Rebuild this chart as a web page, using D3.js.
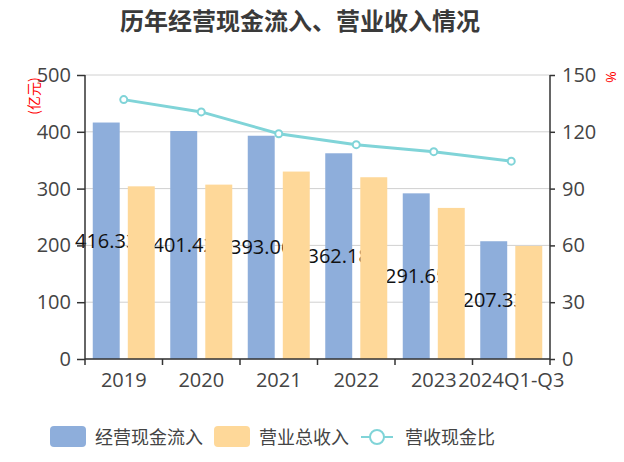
<!DOCTYPE html>
<html><head><meta charset="utf-8">
<script src="https://cdn.jsdelivr.net/npm/d3@7"></script>
<style>body{margin:0;background:#fff}svg{display:block;font-family:"Open Sans","Noto Sans CJK SC",sans-serif}</style>
</head><body><svg id="c" width="624" height="462"></svg>
<script>
const categories = ["2019","2020","2021","2022","2023","2024Q1-Q3"];
const cashInflow = [416.33,401.42,393.06,362.18,291.65,207.33];
const revenue = [304,307,330,320,266,199];
const ratio = [137.0,130.5,119.0,113.2,109.5,104.5];
const leftTicks = [0,100,200,300,400,500];
const rightTicks = [0,30,60,90,120,150];
const seriesNames = ["经营现金流入","营业总收入","营收现金比"];

const FONT = '"Open Sans","Noto Sans CJK SC",sans-serif';
const svg = d3.select("#c");
const L=85, R=550, T=75, B=359;
const x = d3.scaleBand().domain(categories).range([L,R]).paddingInner(0).paddingOuter(0);
const yL = d3.scaleLinear().domain([0,500]).range([B,T]);
const yR = d3.scaleLinear().domain([0,150]).range([B,T]);
const bw = x.bandwidth();
const barW = bw*0.8/2.3, gap = barW*0.3, off = bw*0.1;

// grid
svg.append("g").selectAll("line").data(leftTicks).join("line")
  .attr("x1",L).attr("x2",R).attr("y1",d=>yL(d)).attr("y2",d=>yL(d))
  .attr("stroke","#d0d0d0").attr("stroke-width",1);

// title
svg.append("text").attr("x",300).attr("y",30).attr("text-anchor","middle")
  .attr("font-family","Noto Sans CJK SC")
  .attr("font-size",24).attr("font-weight","bold").attr("fill","#3a3a3a").text("历年经营现金流入、营业收入情况");

// blue bars
svg.append("g").selectAll("rect").data(cashInflow).join("rect")
  .attr("x",(d,i)=>x(categories[i])+off).attr("width",barW)
  .attr("y",d=>yL(d)).attr("height",d=>B-yL(d)).attr("fill","#8eaedb");
// labels
svg.append("g").selectAll("text").data(cashInflow).join("text")
  .attr("x",(d,i)=>x(categories[i])+off+barW/2).attr("y",d=>(yL(d)+B)/2+7)
  .attr("font-family",FONT)
  .attr("text-anchor","middle").attr("font-size",20).attr("fill","#111").text(d=>d.toFixed(2));
// orange bars
svg.append("g").selectAll("rect").data(revenue).join("rect")
  .attr("x",(d,i)=>x(categories[i])+off+barW+gap).attr("width",barW)
  .attr("y",d=>yL(d)).attr("height",d=>B-yL(d)).attr("fill","#fed899");

// axes
const axL = svg.append("g").attr("transform",`translate(${L},0)`)
  .call(d3.axisLeft(yL).tickValues(leftTicks).tickSize(8).tickPadding(6));
const axR = svg.append("g").attr("transform",`translate(${R},0)`)
  .call(d3.axisRight(yR).tickValues(rightTicks).tickSize(5).tickPadding(7));
const axB = svg.append("g").attr("transform",`translate(0,${B})`)
  .call(d3.axisBottom(x).tickSize(0).tickPadding(14));
axB.append("g").selectAll("line").data(d3.range(categories.length+1)).join("line")
  .attr("x1",i=>L+i*bw).attr("x2",i=>L+i*bw).attr("y1",0).attr("y2",6).attr("stroke","#333").attr("stroke-width",1.5);
[axL,axR,axB].forEach(a=>{
  a.attr("font-family",FONT).attr("font-size",20);
  a.selectAll("text").attr("fill","#444");
  a.selectAll(".tick line").attr("stroke","#333").attr("stroke-width",1.5);
  a.select(".domain").attr("stroke","#333").attr("stroke-width",1.5);
});
axL.select(".domain").attr("d",`M0,${T}V${B}`);
axR.select(".domain").attr("d",`M0,${T}V${B}`);
axB.select(".domain").attr("d",`M${L},0H${R}`);

// line
const line = d3.line().x((d,i)=>x(categories[i])+bw/2).y(d=>yR(d));
svg.append("path").datum(ratio).attr("d",line).attr("fill","none").attr("stroke","#80d4d8").attr("stroke-width",3);
svg.append("g").selectAll("circle").data(ratio).join("circle")
  .attr("cx",(d,i)=>x(categories[i])+bw/2).attr("cy",d=>yR(d)).attr("r",3.5)
  .attr("fill","#fff").attr("stroke","#80d4d8").attr("stroke-width",2);

// unit labels
svg.append("text").attr("transform","translate(39,96) rotate(-90)").attr("text-anchor","middle")
  .attr("font-family","Noto Sans CJK SC").attr("font-size",14).attr("fill","#f00").text("(亿元)");
svg.append("text").attr("transform","translate(606,77) rotate(90)").attr("text-anchor","middle")
  .attr("font-family",FONT).attr("font-size",14).attr("fill","#f00").text("%");

// legend
const lg = svg.append("g");
const lgItems = [{x:50,type:"rect",color:"#8eaedb"},{x:214,type:"rect",color:"#fed899"},{x:361,type:"line",color:"#80d4d8"}];
lgItems.forEach((it,i)=>{
  if(it.type==="rect"){
    lg.append("rect").attr("x",it.x).attr("y",426).attr("width",36).attr("height",21).attr("rx",4).attr("fill",it.color);
  } else {
    lg.append("line").attr("x1",it.x).attr("x2",it.x+32).attr("y1",437).attr("y2",437).attr("stroke",it.color).attr("stroke-width",2);
    lg.append("circle").attr("cx",it.x+16).attr("cy",437).attr("r",7).attr("fill","#fff").attr("stroke",it.color).attr("stroke-width",2);
  }
  lg.append("text").attr("x",it.type==="rect"?it.x+45:it.x+44).attr("y",444)
    .attr("font-family","Noto Sans CJK SC").attr("font-size",18).attr("fill","#444").text(seriesNames[i]);
});
</script></body></html>
